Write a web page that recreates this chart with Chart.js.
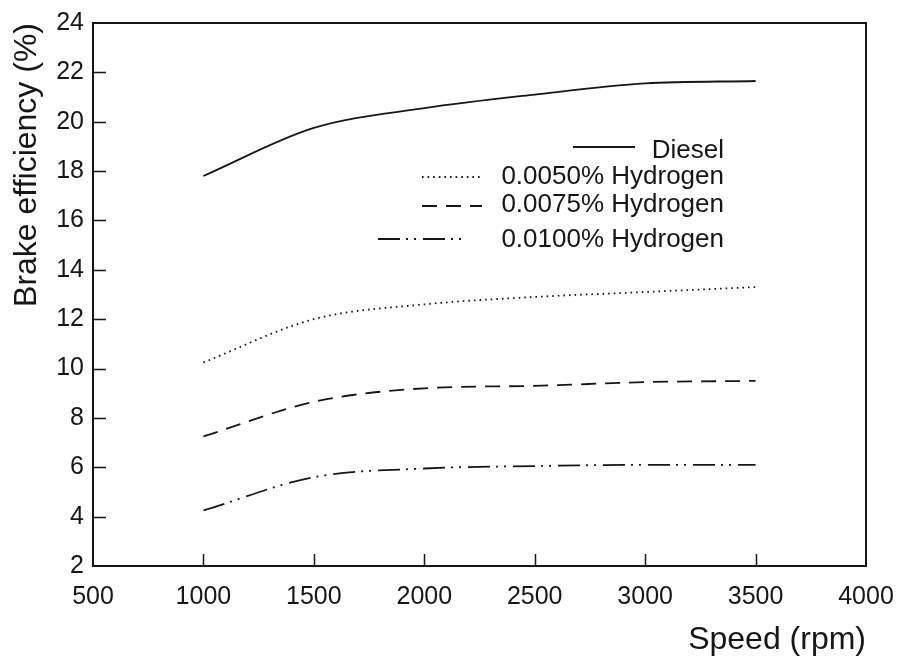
<!DOCTYPE html>
<html>
<head>
<meta charset="utf-8">
<script src="https://cdn.jsdelivr.net/npm/chart.js@4"></script>
<style>
html,body{margin:0;padding:0;background:#fff}
#wrap{width:901px;height:660px}
</style>
</head>
<body>
<div id="wrap"><canvas id="myChart" width="901" height="660"></canvas></div>
<script>
// values
const speeds=[1000,1500,2000,2500,3000,3500];
const diesel=[17.8,19.75,20.55,21.1,21.55,21.65];
const h0050=[10.25,12.0,12.6,12.9,13.1,13.3];
const h0075=[7.25,8.65,9.2,9.3,9.45,9.5];
const h0100=[4.25,5.6,5.95,6.05,6.1,6.1];
const seriesNames=["Diesel","0.0050% Hydrogen","0.0075% Hydrogen","0.0100% Hydrogen"];
const xTicks=[500,1000,1500,2000,2500,3000,3500,4000];
const yTicks=[2,4,6,8,10,12,14,16,18,20,22,24];

const ink="#161616";
const fam="'Liberation Sans', Arial, sans-serif";
const dashes=[[],[1.6,4],[15,9],[22,6,2,6,2,7]];
const seriesValues=[diesel,h0050,h0075,h0100];

const toPoints=(vals)=>speeds.map((s,i)=>({x:s,y:vals[i]}));

// inward tick marks + closed frame
const frameTicks={
    id:"frameTicks",
    afterDraw(chart){
        const {ctx,chartArea:a,scales:{x,y}}=chart;
        ctx.save();
        ctx.strokeStyle=ink;
        ctx.lineWidth=2;
        ctx.strokeRect(a.left,a.top,a.right-a.left,a.bottom-a.top);
        ctx.lineWidth=1.5;
        ctx.beginPath();
        yTicks.slice(1,-1).forEach(v=>{
            const py=Math.round(y.getPixelForValue(v))+0.5;
            ctx.moveTo(a.left,py);ctx.lineTo(a.left+13,py);
        });
        xTicks.slice(1,-1).forEach(v=>{
            const px=Math.round(x.getPixelForValue(v))+0.5;
            ctx.moveTo(px,a.bottom);ctx.lineTo(px,a.bottom-12);
        });
        ctx.stroke();
        ctx.restore();
    }
};

// legend drawn like the original: line sample then right-aligned text
const sampleLegend={
    id:"sampleLegend",
    afterDraw(chart){
        const ctx=chart.ctx;
        const rows=[
            {x1:573,x2:635,ly:147,ty:151},
            {x1:422,x2:482,ly:177,ty:177},
            {x1:422,x2:482,ly:206,ty:205},
            {x1:378,x2:467,ly:239,ty:240},
        ];
        ctx.save();
        chart.data.datasets.forEach((ds,i)=>{
            const r=rows[i];
            ctx.strokeStyle=ink;
            ctx.lineWidth=1.8;
            ctx.setLineDash(ds.borderDash||[]);
            ctx.beginPath();
            ctx.moveTo(r.x1,r.ly);ctx.lineTo(r.x2,r.ly);
            ctx.stroke();
            ctx.setLineDash([]);
            ctx.fillStyle=ink;
            ctx.font="26px "+fam;
            ctx.textAlign="right";
            ctx.textBaseline="middle";
            ctx.fillText(ds.label,724,r.ty);
        });
        ctx.restore();
    }
};

const ctx=document.getElementById("myChart").getContext("2d");
const myChart=new Chart(ctx,{
    type:"line",
    data:{
        datasets:seriesNames.map((name,i)=>({
            label:name,
            data:toPoints(seriesValues[i]),
            borderColor:ink,
            borderWidth:1.8,
            borderDash:dashes[i],
            pointRadius:0,
            fill:false,
            cubicInterpolationMode:"monotone",
        })),
    },
    options:{
        responsive:false,
        animation:false,
        layout:{padding:{top:23,right:35,left:0,bottom:0}},
        plugins:{legend:{display:false},tooltip:{enabled:false}},
        scales:{
            x:{
                type:"linear",
                min:500,max:4000,
                afterBuildTicks:(s)=>{s.ticks=xTicks.map(v=>({value:v}));},
                afterFit:(s)=>{s.height=94;s.paddingLeft=0;s.paddingRight=0;},
                grid:{display:false,drawTicks:false},
                border:{display:true,color:ink,width:2},
                ticks:{color:ink,padding:16,font:{family:fam,size:25},callback:(v)=>String(v)},
                title:{display:true,text:"Speed (rpm)",align:"end",color:ink,
                    padding:{top:0,bottom:1},font:{family:fam,size:32}},
            },
            y:{
                min:2,max:24,
                afterBuildTicks:(s)=>{s.ticks=yTicks.map(v=>({value:v}));},
                afterFit:(s)=>{s.width=93;s.paddingTop=0;s.paddingBottom=0;},
                grid:{display:false,drawTicks:false},
                border:{display:true,color:ink,width:2},
                ticks:{color:ink,padding:9,font:{family:fam,size:25},callback:(v)=>String(v)},
                title:{display:true,text:"Brake efficiency (%)",align:"end",color:ink,
                    padding:{top:8,bottom:0},font:{family:fam,size:32}},
            },
        },
    },
    plugins:[frameTicks,sampleLegend],
});
</script>
</body>
</html>
